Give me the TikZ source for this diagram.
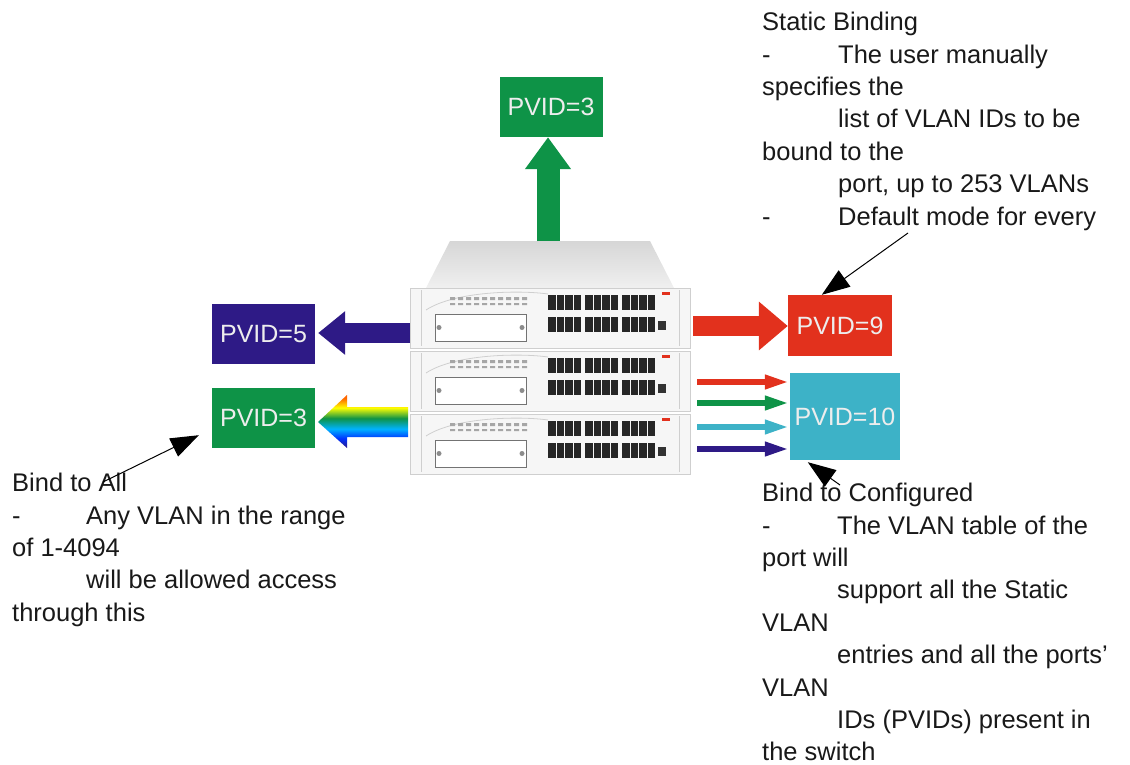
\documentclass[tikz,border=0pt]{standalone}
\usepackage{fontspec}
\setmainfont{Liberation Sans}
\usetikzlibrary{arrows.meta}
\definecolor{vgreen}{HTML}{0E9347}
\definecolor{vnavy}{HTML}{2E1A86}
\definecolor{vred}{HTML}{E2311D}
\definecolor{vcyan}{HTML}{3DB2C7}
\definecolor{panel}{HTML}{F6F6F6}
\definecolor{rim}{HTML}{CFCFCF}
\pgfdeclareverticalshading{rainbowv}{100bp}{color(0bp)=(vnavy); color(25bp)=(vnavy); color(34bp)=(blue!80!cyan); color(43bp)=(cyan!70!blue); color(53bp)=(vgreen); color(63bp)=(yellow); color(72bp)=(orange!80!red); color(100bp)=(orange!80!red)}

\begin{document}
\begin{tikzpicture}[x=1pt,y=-1pt,
pvid/.style={minimum width=103pt,minimum height=60pt,inner sep=0pt,text=white!93!black,font=\fontsize{25}{30}\selectfont},
note/.style={anchor=north west,inner sep=0pt,align=left,text=black!90,font=\fontsize{25.5}{32.4}\selectfont},
callout/.style={-{Triangle[length=28pt,width=20pt]},line width=1pt},
fatarrow/.style={line width=#1}]
\useasboundingbox (0,0) rectangle (1130,765);
\shade[top color=black!16,bottom color=black!6] (450,241)--(650,241)--(674,288)--(426,288)--cycle;
\foreach \t in {288,351,414}{
\draw[rim,fill=panel] (410,\t) rectangle (690,\t+60);
\draw[rim] (421,\t+2)--(421,\t+58) (679,\t+2)--(679,\t+58);
\draw[rim,line width=0.8pt] (426,\t+22) .. controls (455,\t+3) and (520,\t+2) .. (548,\t+6);
\draw[black!55,fill=white] (435,\t+26) rectangle (526,\t+53);
\fill[black!45] (439,\t+39.5) circle (2.5) (522,\t+39.5) circle (2.5);
\foreach \x in {450,458,...,522} \fill[black!35] (\x,\t+9) rectangle +(5,3) (\x,\t+15) rectangle +(5,2);
\foreach \g in {548,585,622}{
\foreach \i in {0,...,3}{
\fill[black!85] (\g+\i*8.6,\t+7) rectangle +(7.6,15);
\fill[black!85] (\g+\i*8.6,\t+29) rectangle +(7.6,15);
}}
\fill[black!80] (658,\t+33) rectangle +(8,9);
\fill[vred] (662,\t+4) rectangle +(8,2.5);
}
\node[pvid,fill=vgreen] (pvidtop) at (551,107) {PVID=3};
\node[pvid,fill=vnavy] (pvidfive) at (263.5,334) {PVID=5};
\node[pvid,fill=vgreen] (pvidthree) at (263.5,418) {PVID=3};
\node[pvid,fill=vred,minimum width=104pt,minimum height=61pt] (pvidnine) at (840,325.5) {PVID=9};
\node[pvid,fill=vcyan,minimum width=110pt,minimum height=87pt] (pvidten) at (845,416.5) {PVID=10};
\coordinate (lidport) at (548,241);
\coordinate (fiveport) at (410,333);
\coordinate (nineport) at (693,326);
\draw[fatarrow=23pt,vgreen,-{Triangle[length=32pt,width=44pt]}] (lidport)--(lidport |- pvidtop.south);
\draw[fatarrow=20pt,vnavy,-{Triangle[length=27pt,width=42pt]},shorten >=3pt] (fiveport)--(fiveport -| pvidfive.east);
\draw[fatarrow=20pt,vred,-{Triangle[length=29pt,width=47pt]}] (nineport)--(nineport -| pvidnine.west);
\shade[shading=rainbowv] (318,422)--(347,395)--(347,407)--(408,407)--(408,437)--(347,437)--(347,448)--cycle;
\foreach \c/\yy [count=\i] in {vred/382,vgreen/403,vcyan/427,vnavy/449}{
\coordinate (tenport\i) at (697,\yy);
\draw[fatarrow=6.5pt,\c,-{Triangle[length=25pt,width=13pt]}] (tenport\i)--(tenport\i -| pvidten.west);
}
\node[note] (staticnote) at (762,12) {Static Binding\\
\makebox[76pt][l]{-}The user manually\\
specifies the\\
\hspace*{76pt}list of VLAN IDs to be\\
bound to the\\
\hspace*{76pt}port, up to 253 VLANs\\
\makebox[76pt][l]{-}Default mode for every};
\node[note] (allnote) at (12,473) {Bind to All\\
\makebox[74pt][l]{-}Any VLAN in the range\\
of 1-4094\\
\hspace*{74pt}will be allowed access\\
through this};
\node[note] (confnote) at (762,483) {Bind to Configured\\
\makebox[75pt][l]{-}The VLAN table of the\\
port will\\
\hspace*{75pt}support all the Static\\
VLAN\\
\hspace*{75pt}entries and all the ports’\\
VLAN\\
\hspace*{75pt}IDs (PVIDs) present in\\
the switch};
\coordinate (statictail) at (908,233);
\coordinate (alltail) at (103,482);
\coordinate (conftail) at (840,485);
\draw[callout] (statictail)--([xshift=34pt]pvidnine.north west);
\draw[callout] (alltail)--([xshift=-13pt,yshift=13pt]pvidthree.south west);
\draw[callout] (conftail)--([xshift=18pt,yshift=-2pt]pvidten.south west);
\end{tikzpicture}
\end{document}
